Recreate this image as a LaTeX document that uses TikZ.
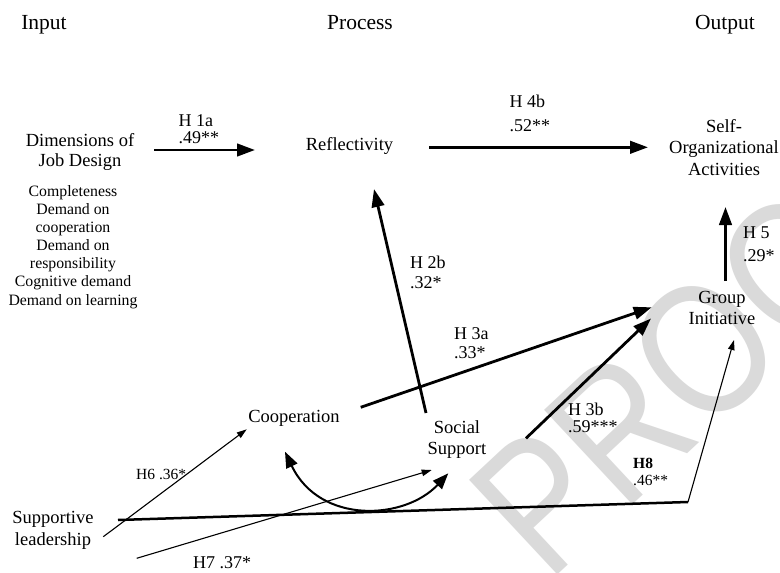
\documentclass[tikz,border=0pt]{standalone}
\usepackage{graphicx}
\usepackage{fontspec}
\setmainfont{Liberation Serif}
\newfontfamily\markfont{Liberation Sans}
\usetikzlibrary{arrows.meta}
\definecolor{markgray}{RGB}{218,218,218}
\tikzset{
  headline/.style={font=\fontsize{21.5}{24}\selectfont, anchor=base, inner sep=0pt},
  concept/.style={font=\fontsize{18.5}{#1}\selectfont, align=center, anchor=base, inner sep=0pt},
  dimlist/.style={font=\fontsize{15.8}{18.05}\selectfont, align=center, anchor=base, inner sep=0pt},
  hyp/.style={font=\fontsize{18}{#1}\selectfont, align=left, anchor=base west, inner sep=0pt},
  hypsmall/.style={font=\fontsize{15.5}{#1}\selectfont, align=left, anchor=base west, inner sep=0pt},
  thickarrow/.style={line width=2.8pt, -{Triangle[length=18pt,width=12.5pt]}},
  thinarrow/.style={line width=1.1pt, -{Triangle[length=10pt,width=6.5pt]}},
  bothways/.style={line width=2pt, {Triangle[length=16pt,width=12pt]}-{Triangle[length=16pt,width=12pt]}},
}
\begin{document}
\begin{tikzpicture}[x=1pt,y=-1pt]
\useasboundingbox (0,0) rectangle (780,573);
\fill[white] (0,0) rectangle (780,573);

% watermark, narrow sans capitals on a slanted baseline
\begin{scope}
  \clip (0,0) rectangle (780,573);
  \node[font=\markfont\fontsize{188}{188}\selectfont, text=markgray, rotate=43,
        anchor=base west, inner sep=0pt] (mark) at (548,583.5) {\scalebox{0.82}[1]{PROOF}};
\end{scope}

% column headings
\node[headline] (input) at (44,29) {Input};
\node[headline] (process) at (360,29) {Process};
\node[headline] (output) at (725,29) {Output};

% constructs (anchored at the baseline of their last line)
\node[concept=20] (jd) at (80,166.7) {Dimensions of\\Job Design};
\node[dimlist] (jdlist) at (73,305) {Completeness\\Demand on\\cooperation\\Demand on\\responsibility\\Cognitive demand\\Demand on learning};
\node[concept=21] (refl) at (349.5,150) {Reflectivity};
\node[concept=21.2] (soa) at (724,175) {Self-\\Organizational\\Activities};
\node[concept=20.7] (gi) at (722,324) {Group\\Initiative};
\node[concept=21] (coop) at (294,422.7) {Cooperation};
\node[concept=20.7] (ss) at (457,454) {Social\\Support};
\node[concept=21.7] (sl) at (53,545) {Supportive\\leadership};

% connector end points
\coordinate (jd-e) at (154,150);
\coordinate (refl-w) at (255,150);
\coordinate (refl-e) at (429,147.3);
\coordinate (soa-w) at (648,147.3);
\coordinate (ss-n) at (426,413);
\coordinate (refl-s) at (374,189);
\coordinate (gi-n) at (725.5,281);
\coordinate (soa-s) at (725.5,207);
\coordinate (coop-e) at (360.7,407.3);
\coordinate (gi-w1) at (651.7,307.3);
\coordinate (ss-ne) at (526,438.3);
\coordinate (gi-w2) at (651,318.5);
\coordinate (sl-ne) at (103.3,536.7);
\coordinate (coop-sw) at (246.7,429.3);
\coordinate (sl-se) at (136.7,558.3);
\coordinate (ss-sw) at (431.7,470);
\coordinate (sl-e) at (118,520);
\coordinate (h8-bend) at (688,502);
\coordinate (gi-s) at (734,340);
\coordinate (coop-s) at (285,451.7);
\coordinate (ss-s) at (448.3,473.3);

% paths
\draw[thickarrow] (jd-e) -- (refl-w);
\draw[thickarrow] (refl-e) -- (soa-w);
\draw[thickarrow] (ss-n) -- (refl-s);
\draw[thickarrow] (gi-n) -- (soa-s);
\draw[thickarrow] (coop-e) -- (gi-w1);
\draw[thickarrow] (ss-ne) -- (gi-w2);
\draw[thinarrow] (sl-ne) -- (coop-sw);
\draw[thinarrow] (sl-se) -- (ss-sw);
\draw[line width=2.5pt] (sl-e) -- (h8-bend);
\draw[thinarrow] (h8-bend) -- (gi-s);
\draw[bothways] (coop-s) .. controls (320,525) and (405,520) .. (ss-s);

% hypothesis labels (anchored at the baseline of their last line)
\node[hyp=16.3] (h1a) at (178.5,143) {H 1a\\.49**};
\node[hyp=24.7] (h4b) at (509.5,131.7) {H 4b\\.52**};
\node[hyp=20] (h2b) at (410,288.3) {H 2b\\.32*};
\node[hyp=19] (h3a) at (454,358.3) {H 3a\\.33*};
\node[hyp=17.5] (h3b) at (568,432.5) {H 3b\\.59***};
\node[hyp=23.7] (h5) at (743,261.7) {H 5\\.29*};
\node[hypsmall=16.7] (h8) at (633,485) {\textbf{H8}\\.46**};
\node[hypsmall=18] (h6) at (136,479.3) {H6 .36*};
\node[hyp=20] (h7) at (193,568.3) {H7 .37*};
\end{tikzpicture}
\end{document}
